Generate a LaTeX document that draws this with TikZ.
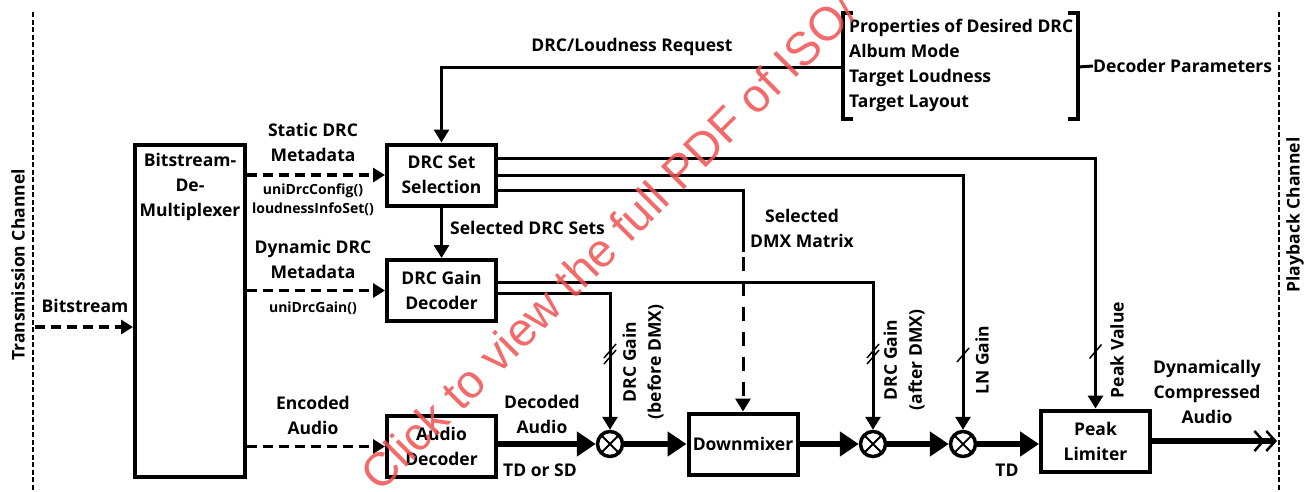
\documentclass[tikz,border=0pt]{standalone}
\usepackage{fontspec}
\setmainfont{Open Sans}
\newfontfamily\wmfont{Liberation Sans}
\usetikzlibrary{arrows.meta, positioning, calc}
\definecolor{wmred}{RGB}{240,80,80}

\tikzset{
  txt/.style={font=\fontsize{17.5}{25}\selectfont\bfseries, align=center, inner sep=0pt},
  small/.style={font=\fontsize{14}{19}\selectfont\bfseries, align=center, inner sep=0pt},
  block/.style={draw, line width=4pt, minimum width=109pt, minimum height=61pt, txt},
  conn/.style={line width=3pt, -{Triangle[length=13pt,width=15pt]}},
  meta/.style={line width=3.5pt, dash pattern=on 10pt off 6pt, -{Triangle[length=12pt,width=14pt]}},
  signal/.style={line width=6pt, -{Triangle[length=19pt,width=24pt]}},
  mult/.style={circle, draw, line width=3.5pt, minimum size=25pt, inner sep=0pt,
    path picture={\draw[line width=1.8pt]
      (path picture bounding box.north west) -- (path picture bounding box.south east)
      (path picture bounding box.north east) -- (path picture bounding box.south west);}},
  channel/.style={line width=1.5pt, dash pattern=on 5pt off 2.5pt},
  bracket/.style={line width=4pt},
}
\newcommand{\gainslash}[1]{\draw[line width=1.5pt] ($(#1)+(-6,7)$) -- ($(#1)+(6,-7)$);}

\begin{document}
\begin{tikzpicture}[x=1pt,y=-1pt]
\useasboundingbox (0,0) rectangle (1314,491);

% channels
\draw[channel] (33,12) -- (33,491);
\draw[channel] (1279,12) -- (1279,491);
\node[txt, rotate=90] (txch) at (18,265) {Transmission Channel};
\node[txt, rotate=90] (pbch) at (1295,215) {Playback Channel};

% blocks
\node[block, minimum width=110pt, minimum height=332pt] (demux) at (190,311) {};
\node[txt] (demuxtxt) at (190,187) {Bitstream-\\De-\\Multiplexer};
\node[block] (sel) at (441.5,175) {DRC Set\\Selection};
\node[block] (gdec) at (441.5,290.5) {DRC Gain\\Decoder};
\node[block] (adec) at (441.5,446.5) {Audio\\Decoder};
\node[mult] (m1) at (610,444) {};
\node[block] (dmx) at (743,444) {Downmixer};
\node[mult] (m2) at (873,444) {};
\node[mult] (m3) at (963,444) {};
\node[block] (plim) at (1095.5,441) {Peak\\Limiter};

% bitstream inputs
\coordinate (bsin) at (35,327);
\draw[meta] (bsin) -- (bsin -| demux.west);
\node[txt] (bslbl) at (85,306) {Bitstream};
\draw[meta] (demux.east |- sel.west) -- (sel.west);
\draw[meta] (demux.east |- gdec.west) -- (gdec.west);
\draw[meta] (demux.east |- adec.west) -- (adec.west);
\node[txt] (statlbl) at (313,142) {Static DRC\\Metadata};
\node[small] (statfn) at (313,200) {uniDrcConfig()\\loudnessInfoSet()};
\node[txt] (dynlbl) at (313,259) {Dynamic DRC\\Metadata};
\node[small] (dynfn) at (313,308) {uniDrcGain()};
\node[txt] (enclbl) at (313,415) {Encoded\\Audio};

% decoder parameters
\node[txt, align=left, anchor=west] (params) at (849,65) {Properties of Desired DRC\\Album Mode\\Target Loudness\\Target Layout};
\draw[bracket] (853,13) -- (843,13) -- (843,119) -- (853,119);
\draw[bracket] (1068,13) -- (1078,13) -- (1078,119) -- (1068,119);
\node[txt, anchor=west] (dplbl) at (1093,66) {Decoder Parameters};
\coordinate (dp) at (1078,67);
\draw[line width=3pt] (dp) -- (dplbl.west);
\coordinate (req) at (843,67);
\draw[conn] (req) -| (sel.north);
\node[txt] (reqlbl) at (632,47) {DRC/Loudness Request};

% control paths
\draw[conn] ([yshift=17pt]sel.east) -| (plim.north);
\draw[conn] (sel.east) -| (m3.north);
\coordinate (dmxbrk) at (743,252);
\draw[line width=3pt] ([yshift=-15pt]sel.east) -| (dmxbrk);
\draw[conn, dash pattern=on 0pt off 5pt on 14pt off 6pt] (dmxbrk) -- (dmx.north);
\node[txt] (dmxlbl) at (802,228) {Selected\\DMX Matrix};
\draw[conn] (sel) -- (gdec);
\node[txt, anchor=west] (setslbl) at (450,228) {Selected DRC Sets};
\draw[conn] ([yshift=8pt]gdec.east) -| (m2.north);
\draw[conn] ([yshift=-3pt]gdec.east) -| (m1.north);

% slashes
\gainslash{$(m1)+(0,-93)$}
\gainslash{$(m1)+(0,-87)$}
\gainslash{$(m2)+(0,-93)$}
\gainslash{$(m2)+(0,-87)$}
\gainslash{$(m3)+(0,-89)$}
\gainslash{$(plim.north)+(0,-57)$}
\node[txt, rotate=90] (g1lbl) at (643,362) {DRC Gain\\(before DMX)};
\node[txt, rotate=90] (g2lbl) at (904,360) {DRC Gain\\(after DMX)};
\node[txt, rotate=90] (lnlbl) at (982,360) {LN Gain};
\node[txt, rotate=90] (pvlbl) at (1117,350) {Peak Value};

% audio signal path
\draw[signal] (adec.east |- m1) -- (m1.west);
\draw[signal] (m1.east) -- (m1 -| dmx.west);
\draw[signal] (dmx.east |- m2) -- (m2.west);
\draw[signal] (m2.east) -- (m3.west);
\draw[signal] (m3.east) -- (m3 -| plim.west);
\coordinate (pbout) at (1277,441);
\draw[line width=6pt, -{Straight Barb[length=9pt,width=20pt,line width=2.5pt]Straight Barb[length=9pt,width=20pt,line width=2.5pt]}] (plim.east) -- (pbout);
\node[txt] (declbl) at (542,414) {Decoded\\Audio};
\node[txt] (tdsd) at (540,470) {TD or SD};
\node[txt] (tdlbl) at (1007,470) {TD};
\node[txt] (outlbl) at (1207,392) {Dynamically\\Compressed\\Audio};

% watermark
\node[font=\wmfont\fontsize{47}{47}\selectfont, text=wmred, opacity=0.85, rotate=45, anchor=base west, inner sep=0pt] (wm) at (380,494) {Click to view the full PDF of ISO/};
\end{tikzpicture}
\end{document}
